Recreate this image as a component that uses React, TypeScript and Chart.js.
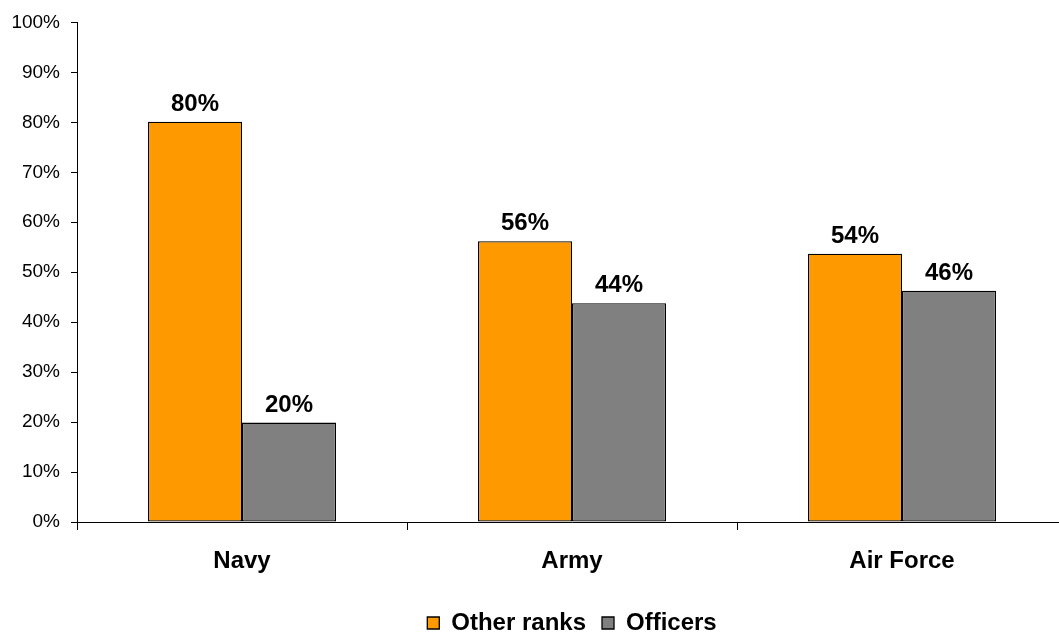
import React, { useEffect, useRef } from "react";
import { Chart, registerables } from "chart.js";

Chart.register(...registerables);

const categories = ["Navy", "Army", "Air Force"];
const otherRanks = [80.1, 56.2, 53.7];
const officers = [19.9, 43.8, 46.3];
const seriesNames = ["Other ranks", "Officers"];
const yTicks = [0, 10, 20, 30, 40, 50, 60, 70, 80, 90, 100];

const FONT = "'Liberation Sans', Arial, sans-serif";

const valueLabels = {
  id: "valueLabels",
  afterDatasetsDraw(chart: any) {
    const ctx = chart.ctx;
    ctx.save();
    ctx.font = `bold 24px ${FONT}`;
    ctx.fillStyle = "#000";
    ctx.textAlign = "center";
    ctx.textBaseline = "alphabetic";
    chart.data.datasets.forEach((ds: any, i: number) => {
      const meta = chart.getDatasetMeta(i);
      meta.data.forEach((el: any, j: number) => {
        const v = ds.data[j];
        ctx.fillText(Math.round(v) + "%", el.x, el.y - 11);
      });
    });
    ctx.restore();
  },
};

export default function App() {
  const ref = useRef<HTMLCanvasElement>(null);
  useEffect(() => {
    if (!ref.current) return;
    const chart = new Chart(ref.current, {
      type: "bar",
      data: {
        labels: categories,
        datasets: [
          {
            label: seriesNames[0],
            data: otherRanks,
            backgroundColor: "#FF9900",
            borderColor: "#000",
            borderWidth: 1.3,
            borderSkipped: false,
          },
          {
            label: seriesNames[1],
            data: officers,
            backgroundColor: "#808080",
            borderColor: "#000",
            borderWidth: 1.3,
            borderSkipped: false,
          },
        ],
      },
      options: {
        responsive: false,
        animation: false,
        layout: { padding: { top: 19, left: 0, right: 8, bottom: 0 } },
        datasets: {
          bar: { categoryPercentage: 0.5697, barPercentage: 1 },
        },
        plugins: {
          tooltip: { enabled: false },
          legend: {
            position: "bottom",
            fullSize: false,
            labels: {
              boxWidth: 12,
              boxHeight: 12,
              padding: 16,
              color: "#000",
              font: { family: FONT, size: 24, weight: "bold", lineHeight: 1 },
            },
          },
        },
        scales: {
          x: {
            afterFit(scale: any) {
              scale.height = 73;
            },
            grid: {
              offset: true,
              drawOnChartArea: false,
              drawTicks: true,
              tickLength: 8,
              color: "#000",
            },
            border: { color: "#000", width: 1 },
            ticks: {
              color: "#000",
              padding: 17,
              font: { family: FONT, size: 24, weight: "bold" },
            },
          },
          y: {
            min: 0,
            max: 100,
            afterFit(scale: any) {
              scale.width = 77;
            },
            afterBuildTicks(scale: any) {
              scale.ticks = yTicks.map((v) => ({ value: v }));
            },
            grid: {
              drawOnChartArea: false,
              drawTicks: true,
              tickLength: 6,
              color: "#000",
            },
            border: { color: "#000", width: 1 },
            ticks: {
              color: "#000",
              padding: 11,
              font: { family: FONT, size: 19 },
              callback: (v: any) => v + "%",
            },
          },
        },
      },
      plugins: [valueLabels],
    });
    return () => chart.destroy();
  }, []);
  return (
    <canvas
      ref={ref}
      width={1075}
      height={645}
      style={{ position: "fixed", left: 0, top: 0, width: 1075, height: 645 }}
    />
  );
}
